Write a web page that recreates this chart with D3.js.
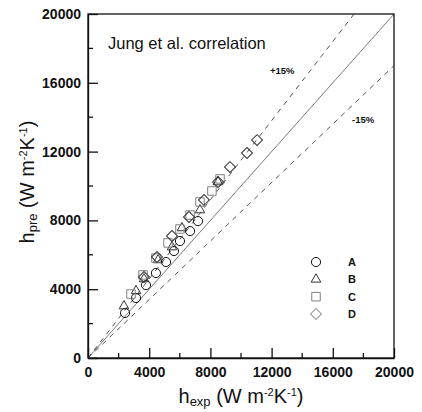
<!DOCTYPE html>
<html>
<head>
<meta charset="utf-8">
<script src="https://cdn.jsdelivr.net/npm/d3@7"></script>
<style>
  body { margin: 0; background: #fff; }
  svg { display: block; font-family: "Liberation Sans", Arial, sans-serif; }
</style>
</head>
<body>
<div id="chart"></div>
<script>
// ---- Data ----
const seriesNames = ["A", "B", "C", "D"];

const aExp = [2420, 3140, 3790, 4440, 5100, 5620, 6010, 6670, 7190];
const aPre = [2620, 3490, 4240, 4940, 5580, 6220, 6800, 7380, 7960];

const bExp = [2350, 3140, 3660, 4580, 5490, 6140, 7320, 8500];
const bPre = [3020, 3900, 4590, 5700, 6450, 7560, 8600, 10230];

const cExp = [2810, 3600, 4440, 5230, 6010, 6670, 7320, 8100, 8630];
const cPre = [3720, 4830, 5810, 6690, 7500, 8310, 9070, 9710, 10410];

const dExp = [3660, 4510, 5490, 6600, 7580, 8500, 9280, 10390, 11050];
const dPre = [4710, 5870, 7090, 8200, 9190, 10230, 11100, 11920, 12670];

const axisTicks = [0, 4000, 8000, 12000, 16000, 20000];
const minorTicks = [2000, 6000, 10000, 14000, 18000];
const deviation = 0.15;

// ---- Layout ----
const W = 422, H = 412;
const plot = { left: 88, right: 394, top: 14, bottom: 358 };

const svg = d3.select("#chart").append("svg")
  .attr("width", W).attr("height", H);

const x = d3.scaleLinear().domain([0, 20000]).range([plot.left, plot.right]);
const y = d3.scaleLinear().domain([0, 20000]).range([plot.bottom, plot.top]);

svg.append("clipPath").attr("id", "clip")
  .append("rect")
  .attr("x", plot.left).attr("y", plot.top)
  .attr("width", plot.right - plot.left)
  .attr("height", plot.bottom - plot.top);

// ---- Reference lines: 1:1 and +/-15% ----
const lines = svg.append("g").attr("clip-path", "url(#clip)");
const refLines = [
  { k: 1, dash: null, color: "#7a7a7a" },
  { k: 1 + deviation, dash: "5,5", color: "#555" },
  { k: 1 - deviation, dash: "5,5", color: "#555" }
];
lines.selectAll("line")
  .data(refLines)
  .join("line")
  .attr("x1", x(0)).attr("y1", y(0))
  .attr("x2", x(20000)).attr("y2", d => y(20000 * d.k))
  .attr("stroke", d => d.color)
  .attr("stroke-width", 1)
  .attr("stroke-dasharray", d => d.dash);

// ---- Frame ----
svg.append("rect")
  .attr("x", plot.left).attr("y", plot.top)
  .attr("width", plot.right - plot.left)
  .attr("height", plot.bottom - plot.top)
  .attr("fill", "none").attr("stroke", "#111").attr("stroke-width", 1.3);

// ---- Axes ----
const fmt = d3.format("d");
const xAxis = d3.axisBottom(x).tickValues(axisTicks).tickFormat(fmt)
  .tickSizeInner(-10).tickSizeOuter(0).tickPadding(9);
const yAxis = d3.axisLeft(y).tickValues(axisTicks).tickFormat(fmt)
  .tickSizeInner(-10).tickSizeOuter(0).tickPadding(7);

const gx = svg.append("g").attr("transform", `translate(0,${plot.bottom})`).call(xAxis);
const gy = svg.append("g").attr("transform", `translate(${plot.left},0)`).call(yAxis);
[gx, gy].forEach(g => {
  g.select(".domain").attr("stroke", "#111").attr("stroke-width", 1.3);
  g.selectAll(".tick line").attr("stroke", "#111").attr("stroke-width", 1.3);
  g.selectAll(".tick text")
    .attr("fill", "#111")
    .style("font-size", "14px")
    .style("font-weight", "bold");
});

// minor ticks
svg.append("g").selectAll("line")
  .data(minorTicks).join("line")
  .attr("x1", d => x(d)).attr("x2", d => x(d))
  .attr("y1", plot.bottom).attr("y2", plot.bottom - 5)
  .attr("stroke", "#111").attr("stroke-width", 1.3);
svg.append("g").selectAll("line")
  .data(minorTicks).join("line")
  .attr("y1", d => y(d)).attr("y2", d => y(d))
  .attr("x1", plot.left).attr("x2", plot.left + 5)
  .attr("stroke", "#111").attr("stroke-width", 1.3);

// ---- Axis titles ----
function unitTitle(sel, sub) {
  sel.append("tspan").text("h");
  sel.append("tspan").text(sub).style("font-size", "13px").attr("dy", 3);
  sel.append("tspan").text(" (W m").attr("dy", -3);
  sel.append("tspan").text("-2").style("font-size", "11px").attr("dy", -7);
  sel.append("tspan").text("K").attr("dy", 7);
  sel.append("tspan").text("-1").style("font-size", "11px").attr("dy", -7);
  sel.append("tspan").text(")").attr("dy", 7);
}

const xTitle = svg.append("text")
  .attr("x", (plot.left + plot.right) / 2).attr("y", 403)
  .attr("text-anchor", "middle")
  .style("font-size", "20px").attr("fill", "#111");
unitTitle(xTitle, "exp");

const yTitle = svg.append("text")
  .attr("transform", `translate(34,${(plot.top + plot.bottom) / 2 - 4}) rotate(-90)`)
  .attr("text-anchor", "middle")
  .style("font-size", "20px").attr("fill", "#111");
unitTitle(yTitle, "pre");

// ---- Annotations ----
svg.append("text")
  .attr("x", 108).attr("y", 49)
  .style("font-size", "16.5px").attr("fill", "#111")
  .text("Jung et al. correlation");
svg.append("text")
  .attr("x", 270).attr("y", 74)
  .style("font-size", "9.5px").style("font-weight", "bold").attr("fill", "#111")
  .text("+15%");
svg.append("text")
  .attr("x", 352).attr("y", 123)
  .style("font-size", "9.5px").style("font-weight", "bold").attr("fill", "#111")
  .text("-15%");

// ---- Markers ----
const markers = {
  A: { type: d3.symbolCircle, size: 66, rot: 0, color: "#111" },
  B: { type: d3.symbolTriangle, size: 40, rot: 0, color: "#333" },
  C: { type: d3.symbolSquare, size: 72, rot: 0, color: "#808080" },
  D: { type: d3.symbolSquare, size: 60, rot: 45, color: "#333" }
};

const series = [
  { name: "A", xs: aExp, ys: aPre },
  { name: "B", xs: bExp, ys: bPre },
  { name: "C", xs: cExp, ys: cPre },
  { name: "D", xs: dExp, ys: dPre }
];

const pts = svg.append("g");
series.forEach(s => {
  const m = markers[s.name];
  const path = d3.symbol().type(m.type).size(m.size)();
  pts.selectAll(null)
    .data(s.xs.map((v, i) => [v, s.ys[i]]))
    .join("path")
    .attr("d", path)
    .attr("transform", d => `translate(${x(d[0])},${y(d[1])}) rotate(${m.rot})`)
    .attr("fill", "none")
    .attr("stroke", m.color)
    .attr("stroke-width", 1);
});

// ---- Legend ----
const legend = svg.append("g");
const legendY = d3.scalePoint().domain(seriesNames).range([262, 314]);
seriesNames.forEach(n => {
  const m = markers[n];
  legend.append("path")
    .attr("d", d3.symbol().type(m.type).size(m.size)())
    .attr("transform", `translate(316,${legendY(n)}) rotate(${m.rot})`)
    .attr("fill", "none")
    .attr("stroke", n === "D" ? "#999" : m.color)
    .attr("stroke-width", 1);
  legend.append("text")
    .attr("x", 348).attr("y", legendY(n) + 4)
    .style("font-size", "11px").style("font-weight", "bold").attr("fill", "#111")
    .text(n);
});
</script>
</body>
</html>
